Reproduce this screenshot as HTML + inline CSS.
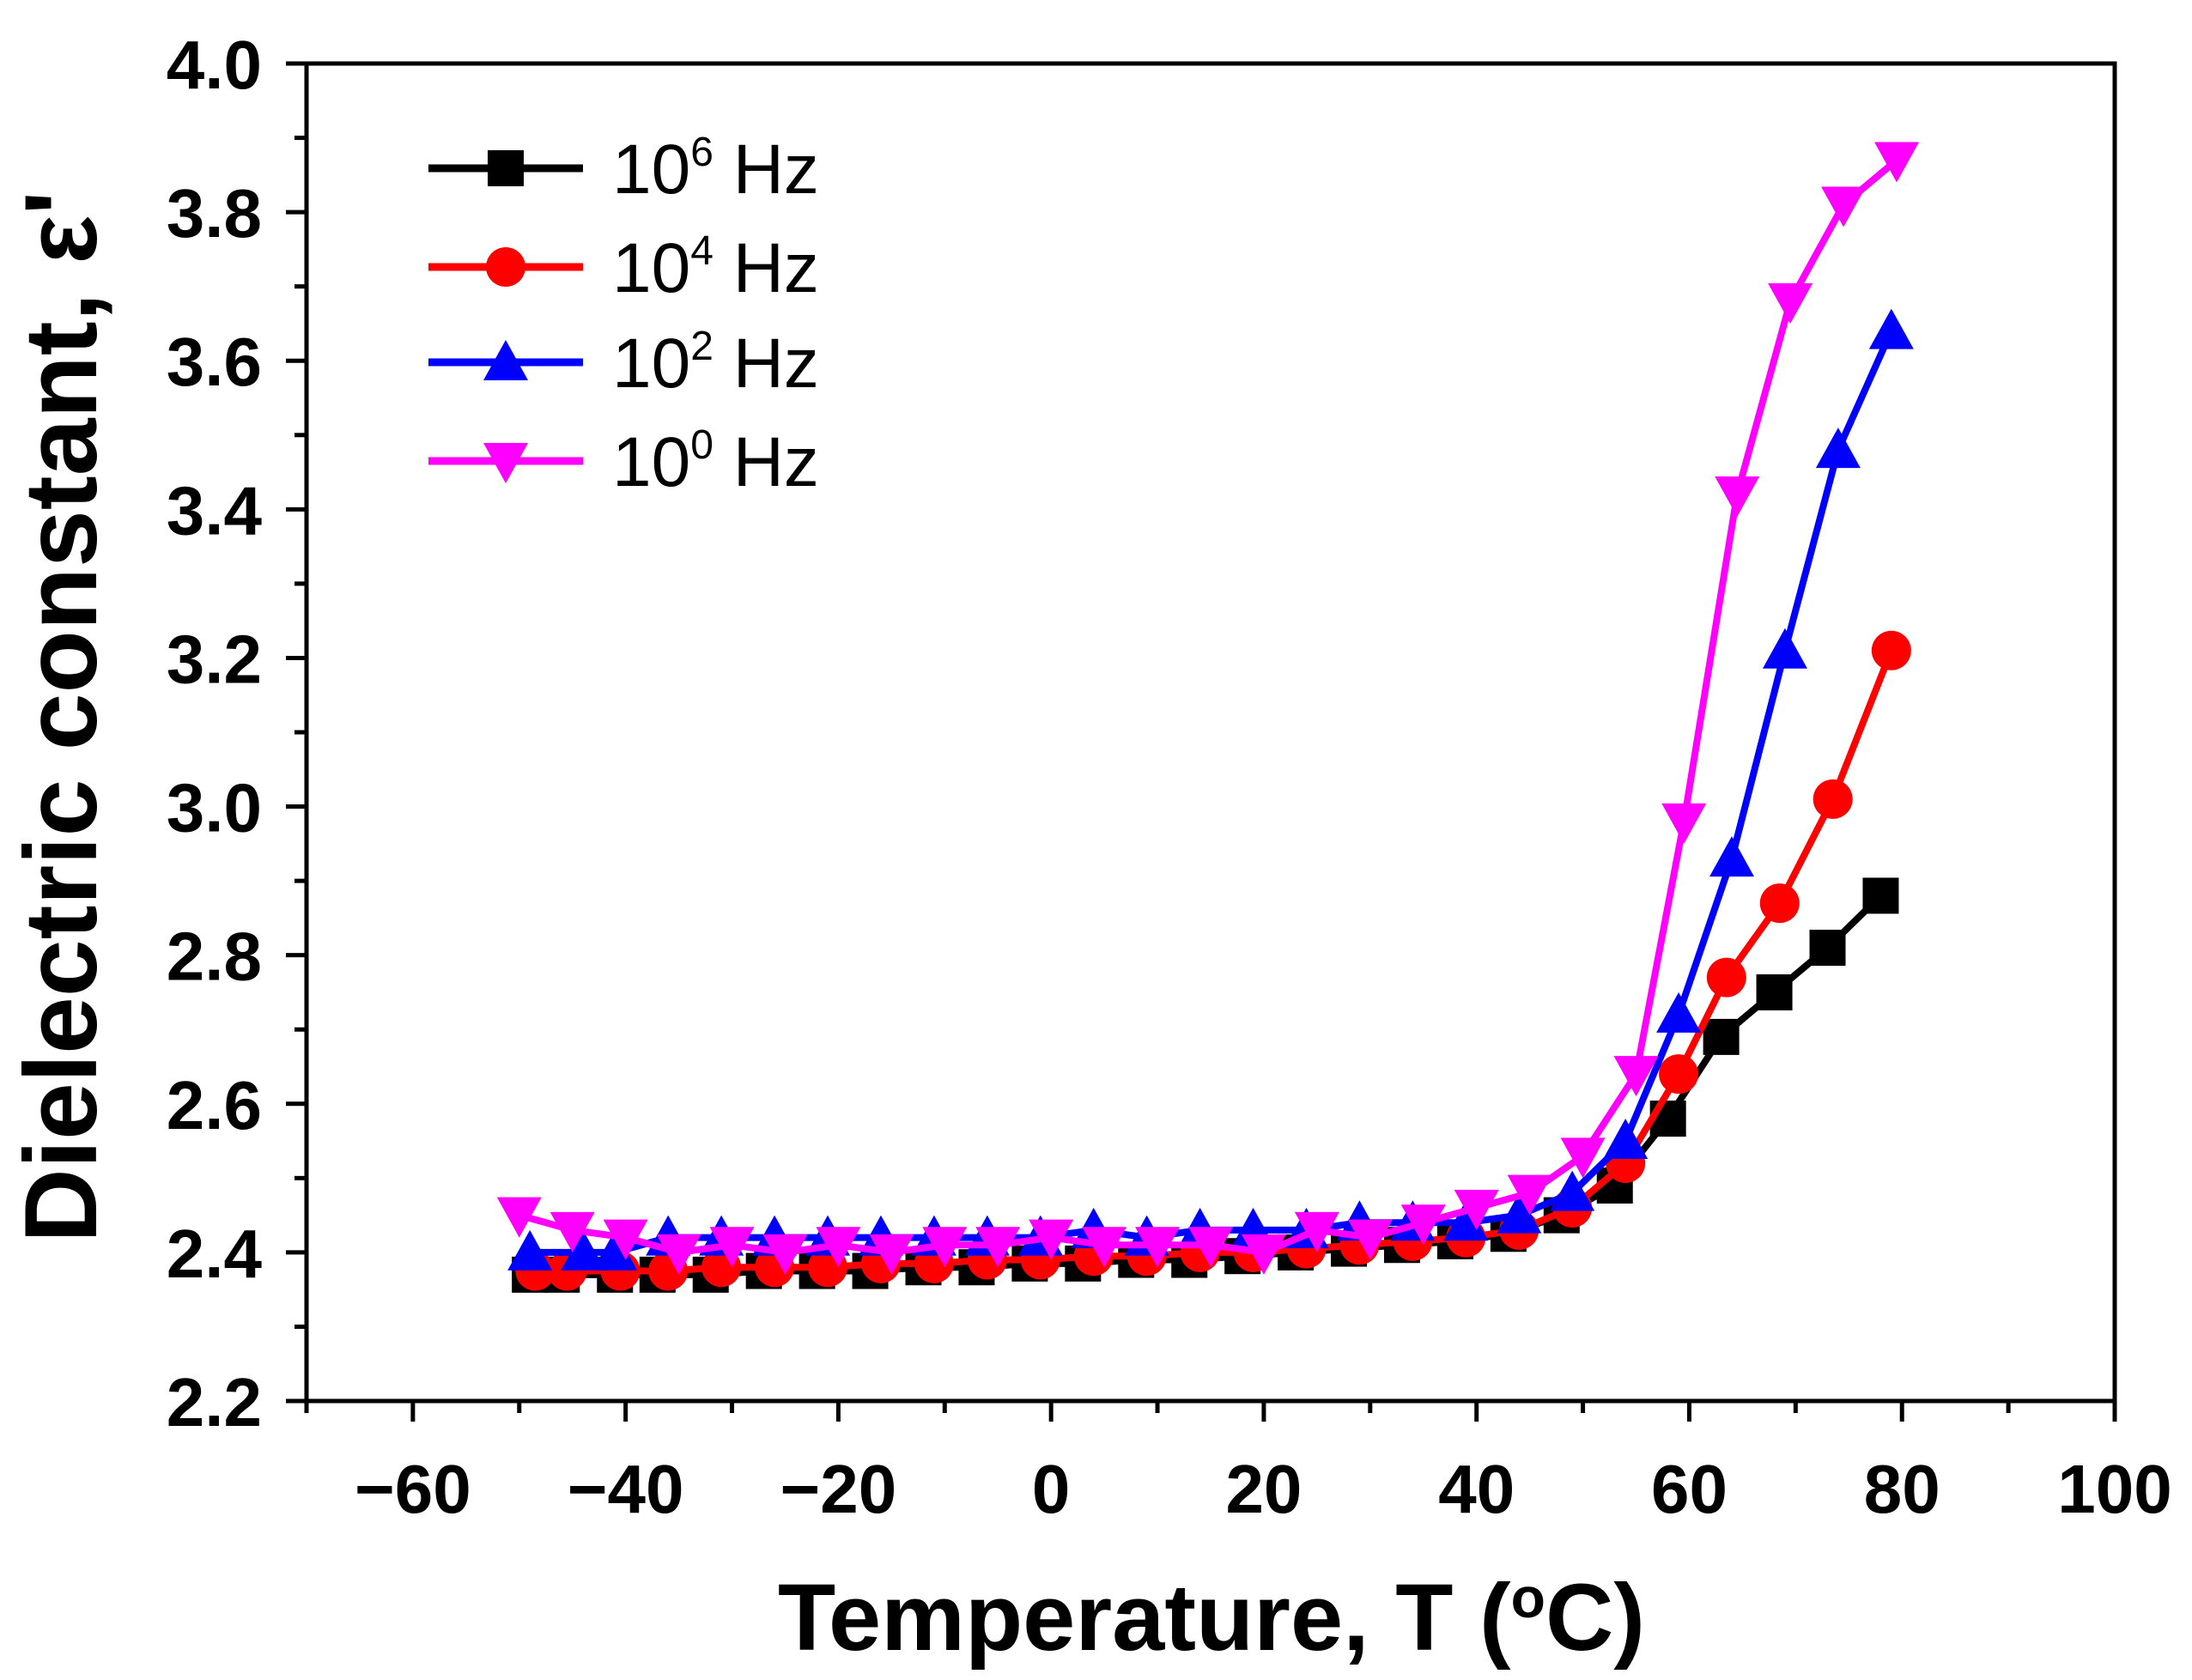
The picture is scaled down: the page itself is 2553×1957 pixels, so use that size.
<!DOCTYPE html>
<html><head><meta charset="utf-8"><style>body{margin:0;background:#fff}svg{display:block}text{font-family:"Liberation Sans",Arial,sans-serif}</style></head>
<body>
<svg id="chart" width="2553" height="1957" viewBox="0 0 2553 1957" xmlns="http://www.w3.org/2000/svg"></svg>
<script>
const xTicks=[-60,-40,-20,0,20,40,60,80,100];
const yTicks=[2.2,2.4,2.6,2.8,3.0,3.2,3.4,3.6,3.8,4.0];
const tBlack=[-49,-46,-41,-37,-32,-27,-22,-17,-12,-7,-2,3,8,13,18,23,28,33,38,43,48,53,58,63,68,73,78];
const vBlack=[2.37,2.37,2.37,2.37,2.37,2.375,2.375,2.375,2.38,2.38,2.385,2.385,2.39,2.39,2.395,2.4,2.405,2.41,2.415,2.425,2.45,2.49,2.58,2.69,2.75,2.81,2.88];
const tRed=[-48.5,-45.5,-40.5,-36,-31,-26,-21,-16,-11,-6,-1,4,9,14,19,24,29,34,39,44,49,54,59,63.5,68.5,73.5,79];
const vRed=[2.375,2.375,2.375,2.375,2.38,2.38,2.38,2.385,2.385,2.39,2.39,2.395,2.395,2.4,2.4,2.405,2.41,2.415,2.42,2.43,2.46,2.52,2.64,2.77,2.87,3.01,3.21];
const tBlue=[-49,-44,-41,-36,-31,-26,-21,-16,-11,-6,-1,4,9,14,19,24,29,34,39,44,49,54,59,64,69,74,79];
const vBlue=[2.4,2.4,2.4,2.42,2.42,2.42,2.42,2.42,2.42,2.42,2.42,2.43,2.42,2.43,2.43,2.43,2.44,2.44,2.44,2.45,2.48,2.55,2.72,2.93,3.21,3.48,3.64];
const tMag=[-50,-45,-40,-35,-30,-25,-20,-15,-10,-5,0,5,10,15,20,25,30,35,40,45,50,55,59.5,64.5,69.5,74.5,79.5];
const vMag=[2.45,2.43,2.42,2.4,2.41,2.4,2.41,2.4,2.41,2.41,2.42,2.41,2.41,2.41,2.4,2.43,2.42,2.44,2.46,2.48,2.53,2.64,2.98,3.42,3.68,3.81,3.87];
const L=357,R=2463,T=74,B=1632,x0=-70,x1=100,y0=2.2,y1=4.0;
const X=v=>L+(v-x0)/(x1-x0)*(R-L), Y=v=>B-(v-y0)/(y1-y0)*(B-T);
const svg=document.getElementById('chart'),NS='http://www.w3.org/2000/svg';
function mk(tag,at,parent){const e=document.createElementNS(NS,tag);for(const k in at)e.setAttribute(k,at[k]);(parent||svg).appendChild(e);return e;}
const frame=mk('rect',{x:L,y:T,width:R-L,height:B-T,fill:'none',stroke:'#000','stroke-width':5});


for(let v=-70;v<=100;v+=10){const major=xTicks.includes(v);const t=mk('line',{x1:X(v),x2:X(v),y1:B,y2:B+(major?24:14),stroke:'#000','stroke-width':5});

}
xTicks.forEach(v=>{const t=mk('text',{x:X(v),y:1762,'text-anchor':'middle','font-size':80,'font-weight':'bold'});t.textContent=v<0?'\u2212'+(-v):v;

});
for(let i=0;i<=18;i++){const v=2.2+i*0.1;const major=i%2==0;const t=mk('line',{x1:L,x2:L-(major?24:14),y1:Y(v),y2:Y(v),stroke:'#000','stroke-width':5});

}
yTicks.forEach(v=>{const t=mk('text',{x:305,y:Y(v)+29,'text-anchor':'end','font-size':80,'font-weight':'bold'});t.textContent=v.toFixed(1);

});
const xt=mk('text',{x:1411,y:1922,'text-anchor':'middle','font-size':110,'font-weight':'bold'});
xt.innerHTML='Temperature, T (<tspan dy="-38" font-size="66">o</tspan><tspan dy="38">C)</tspan>';


const yt=mk('text',{x:0,y:0,'text-anchor':'middle','font-size':120,'font-weight':'bold',transform:'translate(112,835) rotate(-90)'});
yt.textContent="Dielectric constant, \u03b5'";


function marker(type,cx,cy,col,g){const s=21;
 if(type=='sq')return mk('rect',{x:cx-s,y:cy-s,width:2*s,height:2*s,fill:col},g);
 if(type=='ci')return mk('circle',{cx,cy,r:s+2,fill:col},g);
 if(type=='up')return mk('polygon',{points:`${cx},${cy-s-5} ${cx+s+5},${cy+s} ${cx-s-5},${cy+s}`,fill:col},g);
 return mk('polygon',{points:`${cx-s-5},${cy-s} ${cx+s+5},${cy-s} ${cx},${cy+s+5}`,fill:col},g);}
const series=[['series-1e6-hz',tBlack,vBlack,'#000','sq'],['series-1e4-hz',tRed,vRed,'#f00','ci'],['series-1e2-hz',tBlue,vBlue,'#00f','up'],['series-1e0-hz',tMag,vMag,'#f0f','dn']];
series.forEach(([nm,ts,vs,col,m])=>{const g=mk('g',{});
 
 
 mk('polyline',{points:ts.map((t,i)=>X(t)+','+Y(vs[i])).join(' '),fill:'none',stroke:col,'stroke-width':8},g);
 ts.forEach((t,i)=>marker(m,X(t),Y(vs[i]),col,g));});
const labels=['10|6','10|4','10|2','10|0'];
const lys=[196,311,422,537];
series.forEach(([nm,ts,vs,col,m],i)=>{const g=mk('g',{});
 
 
 mk('line',{x1:499,x2:679,y1:lys[i],y2:lys[i],stroke:col,'stroke-width':9},g);
 marker(m,589,lys[i],col,g);
 const [b,e]=labels[i].split('|');
 const t=mk('text',{x:713,y:lys[i]+29,'font-size':82},g);
 t.innerHTML=b+'<tspan dy="-32" font-size="48">'+e+'</tspan><tspan dy="32"> Hz</tspan>';});
</script>
</body></html>
